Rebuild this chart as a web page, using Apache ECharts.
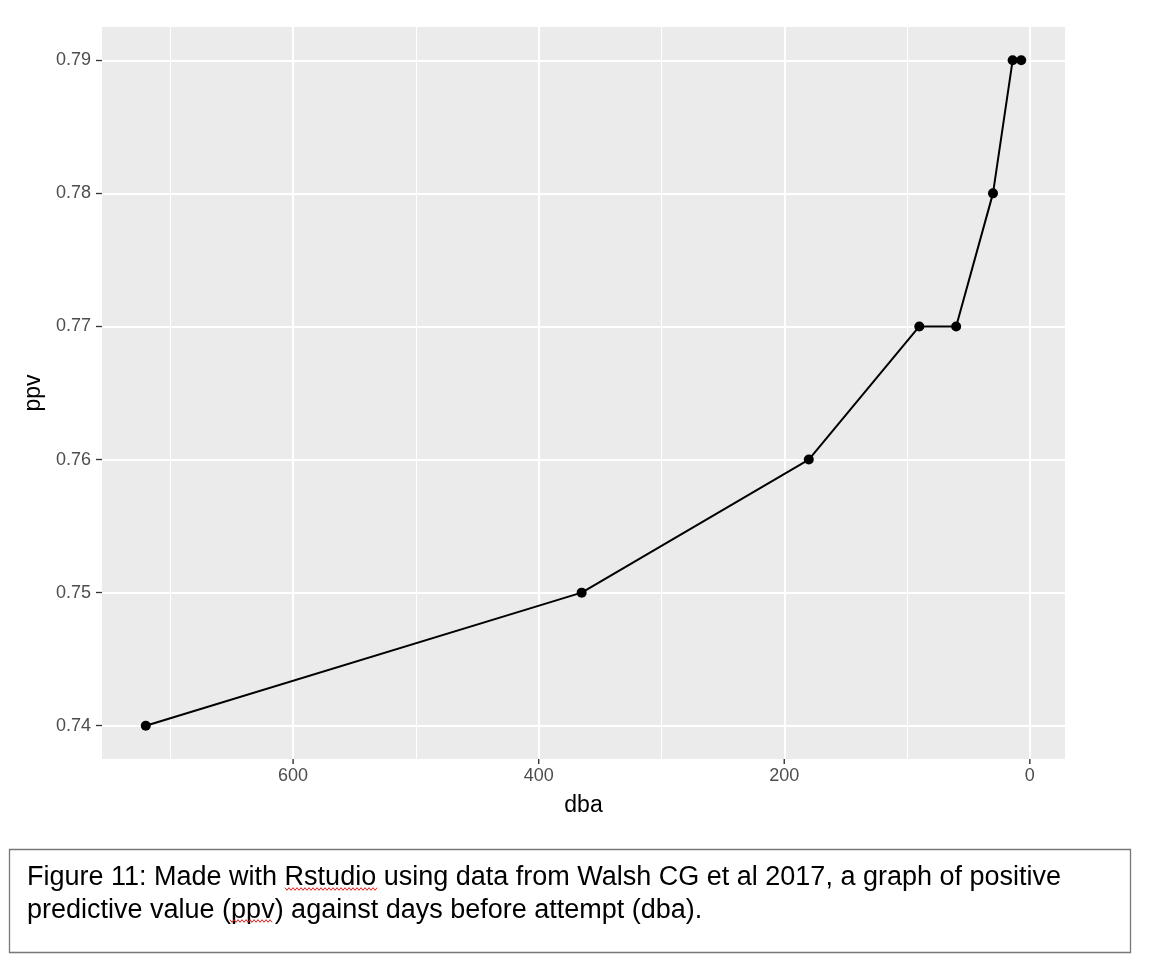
<!DOCTYPE html>
<html>
<head>
<meta charset="utf-8">
<script src="https://cdn.jsdelivr.net/npm/echarts@6/dist/echarts.min.js"></script>
<style>
html,body{margin:0;padding:0;background:#fff;}
#c{width:1150px;height:962px;}
</style>
</head>
<body>
<div id="c"></div>
<script>
const dba = [720, 365, 180, 90, 60, 30, 14, 7];
const ppv = [0.74, 0.75, 0.76, 0.77, 0.77, 0.78, 0.79, 0.79];
const xMajor = [0, 200, 400, 600];
const xMinor = [100, 300, 500, 700];
const yMajor = [0.74, 0.75, 0.76, 0.77, 0.78, 0.79];
const yMinor = [0.745, 0.755, 0.765, 0.775, 0.785];
const caption1 = 'Figure 11: Made with Rstudio using data from Walsh CG et al 2017, a graph of positive';
const caption2 = 'predictive value (ppv) against days before attempt (dba).';

// ggplot-style 5% expansion
const xLo = Math.min(...dba), xHi = Math.max(...dba);
const yLo = Math.min(...ppv), yHi = Math.max(...ppv);
const xPad = (xHi - xLo) * 0.05, yPad = (yHi - yLo) * 0.05;

const chart = echarts.init(document.getElementById('c'), null, {renderer: 'canvas'});

function wavy(x0, x1, y) {
  const pts = [];
  for (let x = x0, i = 0; x <= x1; x += 2, i++) {
    pts.push([x, y + (i % 2 === 0 ? -1.3 : 1.3)]);
  }
  return pts;
}

const gridLines = [];
xMajor.forEach(v => gridLines.push({xAxis: v, lineStyle: {width: 2}}));
xMinor.forEach(v => gridLines.push({xAxis: v, lineStyle: {width: 1}}));
yMajor.forEach(v => gridLines.push({yAxis: v, lineStyle: {width: 2}}));
yMinor.forEach(v => gridLines.push({yAxis: v, lineStyle: {width: 1}}));

chart.setOption({
  backgroundColor: '#ffffff',
  animation: false,
  grid: {
    left: 102, right: 85, top: 27, bottom: 203,
    show: true, backgroundColor: '#EBEBEB', borderWidth: 0
  },
  xAxis: {
    type: 'value',
    inverse: true,
    min: xLo - xPad,
    max: xHi + xPad,
    name: 'dba',
    nameLocation: 'middle',
    nameGap: 35,
    nameTextStyle: {fontFamily: 'Liberation Sans', fontSize: 23, color: '#000'},
    axisLine: {show: false, onZero: false},
    axisTick: {show: false},
    axisLabel: {
      customValues: xMajor,
      margin: 0,
      formatter: v => '{t| }\n{v|' + v + '}',
      rich: {
        t: {width: 1.4, height: 5, lineHeight: 5, fontSize: 1, backgroundColor: '#333', align: 'center'},
        v: {fontFamily: 'Liberation Sans', fontSize: 18, lineHeight: 22, color: '#4D4D4D', padding: [3, 0, 0, 0], align: 'center'}
      }
    },
    splitLine: {show: false}
  },
  yAxis: {
    type: 'value',
    min: yLo - yPad,
    max: yHi + yPad,
    name: 'ppv',
    nameLocation: 'middle',
    nameGap: 52,
    nameRotate: 90,
    nameTextStyle: {fontFamily: 'Liberation Sans', fontSize: 23, color: '#000'},
    axisLine: {show: false, onZero: false},
    axisTick: {show: true, customValues: yMajor, length: 6, lineStyle: {color: '#333', width: 1.3}},
    axisLabel: {customValues: yMajor, fontFamily: 'Liberation Sans', fontSize: 18, color: '#4D4D4D', margin: 11,
      formatter: v => v.toFixed(2)},
    splitLine: {show: false}
  },
  series: [
    {
      type: 'line',
      data: [],
      z: 1,
      silent: true,
      markLine: {
        silent: true,
        symbol: 'none',
        label: {show: false},
        lineStyle: {color: '#ffffff', type: 'solid'},
        data: gridLines
      }
    },
    {
      type: 'line',
      z: 5,
      data: dba.map((d, i) => [d, ppv[i]]),
      symbol: 'circle',
      symbolSize: 10,
      showSymbol: true,
      itemStyle: {color: '#000'},
      lineStyle: {color: '#000', width: 2},
      silent: true
    }
  ],
  graphic: [
    {type: 'rect', shape: {x: 9.5, y: 849.5, width: 1121, height: 103},
     style: {fill: '#fff', stroke: '#777', lineWidth: 1.3}},
    {type: 'text', x: 27, y: 878, style: {text: caption1, font: '27px "Liberation Sans"', fill: '#000', verticalAlign: 'middle'}},
    {type: 'text', x: 27, y: 911, style: {text: caption2, font: '27px "Liberation Sans"', fill: '#000', verticalAlign: 'middle'}},
    {type: 'polyline', shape: {points: wavy(285, 377, 889)}, style: {stroke: '#E0201B', lineWidth: 1, fill: null}},
    {type: 'polyline', shape: {points: wavy(230, 273, 921)}, style: {stroke: '#E0201B', lineWidth: 1, fill: null}}
  ]
});
</script>
</body>
</html>
